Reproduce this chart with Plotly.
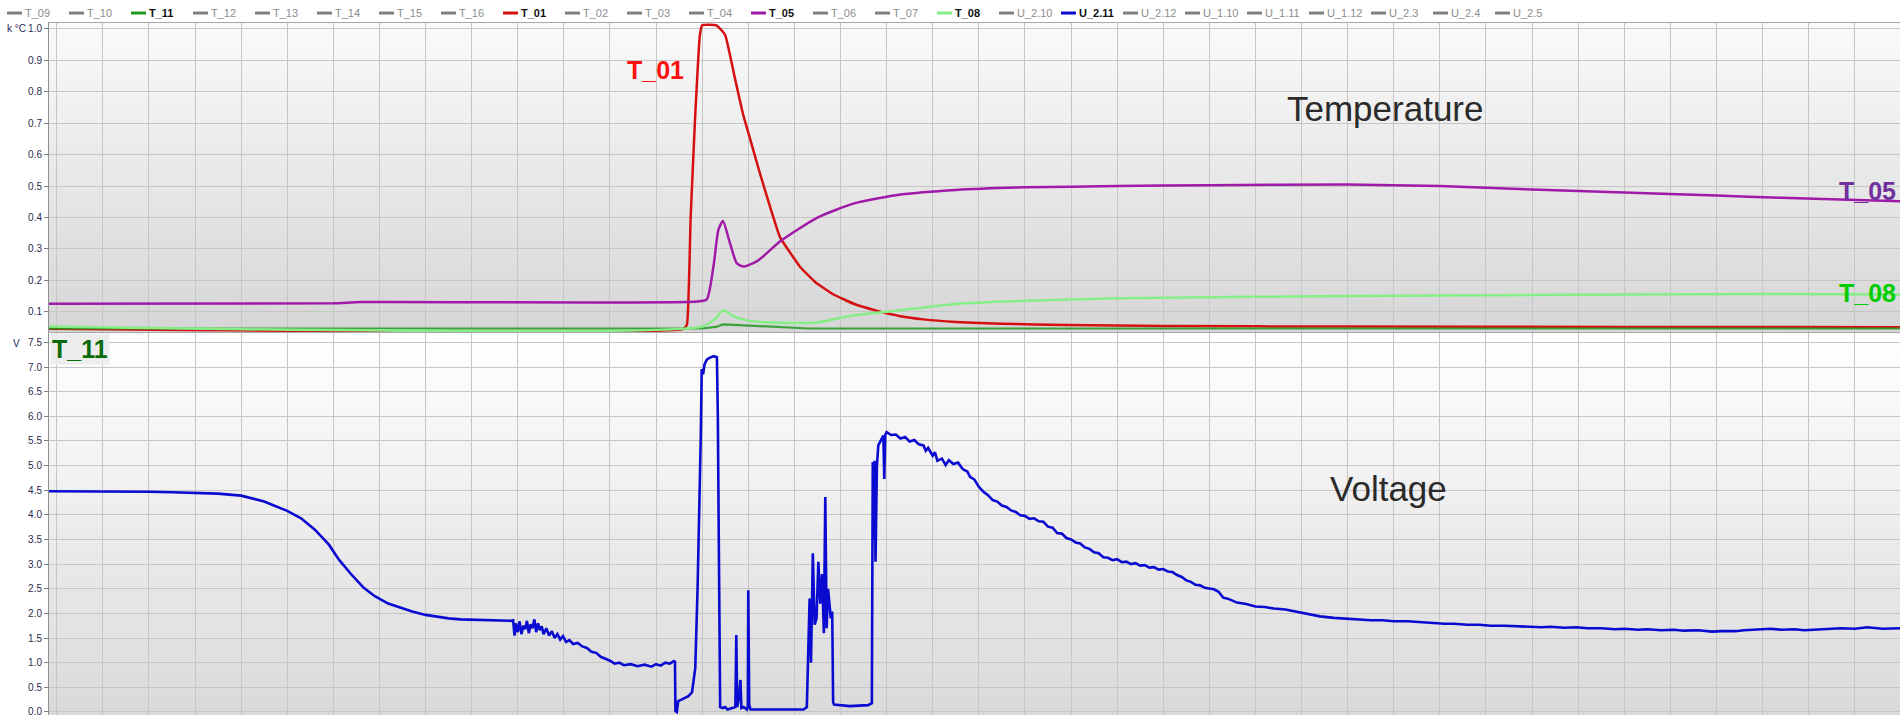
import plotly.graph_objects as go

# ---------------- data (x in grid units, one unit per vertical grid line) -------------
legend_names = ["T_09", "T_10", "T_11", "T_12", "T_13", "T_14", "T_15", "T_16", "T_01",
                "T_02", "T_03", "T_04", "T_05", "T_06", "T_07", "T_08", "U_2.10", "U_2.11",
                "U_2.12", "U_1.10", "U_1.11", "U_1.12", "U_2.3", "U_2.4", "U_2.5"]
active_colors = {"T_11": "#1f9a1f", "T_01": "#d41010", "T_05": "#a01aa8",
                 "T_08": "#86ee86", "U_2.11": "#0a0ad0"}

t11_x = [-0.17, 14.0, 14.3, 14.45, 14.8, 15.3, 15.8, 16.3, 40.0]
t11_y = [0.047, 0.047, 0.052, 0.060, 0.058, 0.054, 0.050, 0.047, 0.047]

t01_x = [-0.17, 13.6, 13.67, 13.75, 13.85, 13.95, 14.0, 14.3, 14.36, 14.5, 14.7, 14.89,
         15.05, 15.26, 15.45, 15.69, 15.9, 16.13, 16.45, 16.84, 17.3, 17.8, 18.3, 18.8,
         19.5, 20.5, 21.9, 24.0, 28.0, 34.0, 40.0]
t01_y = [0.046, 0.046, 0.06, 0.40, 0.727, 0.98, 1.012, 1.012, 1.005, 0.98, 0.85, 0.727,
         0.645, 0.537, 0.445, 0.337, 0.29, 0.242, 0.195, 0.156, 0.125, 0.103, 0.086, 0.076,
         0.068, 0.062, 0.058, 0.055, 0.053, 0.052, 0.051]

t05_x = [-0.17, 6.0, 6.6, 13.9, 14.1, 14.25, 14.35, 14.45, 14.6, 14.75, 14.9, 15.2, 15.7,
         16.5, 17.3, 18.3, 19.5, 21.0, 23.0, 25.0, 28.0, 30.0, 32.0, 34.0, 36.0, 37.4,
         38.5, 40.0]
t05_y = [0.126, 0.127, 0.131, 0.133, 0.14, 0.25, 0.36, 0.389, 0.32, 0.255, 0.244, 0.262,
         0.325, 0.40, 0.445, 0.473, 0.488, 0.496, 0.50, 0.503, 0.505, 0.50, 0.489, 0.48,
         0.47, 0.463, 0.458, 0.452]

t08_x = [-0.17, 14.0, 14.3, 14.45, 14.7, 15.0, 15.5, 16.5, 17.2, 18.3, 19.5, 21.0, 23.0,
         26.0, 30.0, 34.0, 37.0, 40.0]
t08_y = [0.053, 0.053, 0.08, 0.105, 0.085, 0.072, 0.066, 0.066, 0.087, 0.105, 0.125,
         0.135, 0.143, 0.148, 0.152, 0.155, 0.157, 0.155]

# U_2.11 as (x, volts) pairs
u211_xy = [
    (-0.17, 4.48), (1.0, 4.48), (2.0, 4.47), (2.5, 4.46), (3.0, 4.45), (3.5, 4.43),
    (4.0, 4.39), (4.5, 4.27), (5.0, 4.08), (5.3, 3.93), (5.6, 3.70), (5.9, 3.40),
    (6.13, 3.08), (6.4, 2.78), (6.66, 2.52), (6.9, 2.35), (7.19, 2.20), (7.5, 2.10),
    (7.71, 2.04), (8.0, 1.97), (8.24, 1.93), (8.5, 1.90), (8.76, 1.88), (9.0, 1.87),
    (9.29, 1.86), (9.6, 1.86), (9.85, 1.85),
    (9.9, 1.86), (9.93, 1.55), (9.96, 1.80), (10.0, 1.62), (10.04, 1.84), (10.08, 1.58),
    (10.12, 1.75), (10.16, 1.68), (10.2, 1.85), (10.24, 1.60), (10.28, 1.78), (10.32, 1.70),
    (10.36, 1.88), (10.4, 1.62), (10.44, 1.80), (10.48, 1.66), (10.52, 1.74), (10.56, 1.58),
    (10.62, 1.70), (10.68, 1.55), (10.74, 1.64), (10.8, 1.50), (10.86, 1.58), (10.92, 1.47),
    (10.98, 1.54), (11.05, 1.42), (11.12, 1.46), (11.2, 1.38), (11.3, 1.40), (11.4, 1.33),
    (11.5, 1.30), (11.6, 1.22), (11.7, 1.20), (11.8, 1.12), (11.9, 1.08), (12.0, 1.04),
    (12.1, 0.98), (12.2, 1.00), (12.3, 0.95), (12.45, 0.97), (12.6, 0.93), (12.75, 0.96),
    (12.9, 0.92), (13.0, 0.97), (13.1, 0.94), (13.2, 1.00), (13.3, 0.98), (13.38, 1.03),
    (13.41, 1.02),
    (13.42, 0.02), (13.45, 0.00), (13.48, 0.22), (13.55, 0.25), (13.62, 0.28), (13.7, 0.32),
    (13.78, 0.40), (13.85, 0.89), (13.9, 2.50), (13.93, 3.72), (13.97, 5.60), (13.99, 6.96),
    (14.02, 6.85), (14.05, 7.05), (14.1, 7.15), (14.15, 7.18), (14.25, 7.22), (14.32, 7.20),
    (14.34, 6.00), (14.36, 3.50), (14.39, 0.10), (14.45, 0.08), (14.5, 0.10), (14.55, 0.05),
    (14.65, 0.08), (14.72, 0.10), (14.74, 1.56), (14.76, 0.10), (14.8, 0.30), (14.83, 0.65),
    (14.85, 0.08), (14.9, 0.10), (14.97, 0.05), (14.99, 0.10), (15.0, 2.47), (15.02, 0.15),
    (15.05, 0.05), (15.5, 0.05), (16.0, 0.04), (16.2, 0.05), (16.27, 0.10),
    (16.3, 1.50), (16.33, 2.30), (16.36, 1.00), (16.4, 3.22), (16.44, 1.77), (16.48, 1.90),
    (16.52, 3.05), (16.56, 2.20), (16.6, 2.80), (16.64, 1.60), (16.67, 4.36), (16.7, 1.70),
    (16.73, 2.50), (16.76, 2.25), (16.79, 1.90), (16.82, 2.04), (16.84, 0.20), (16.86, 0.15),
    (17.2, 0.12), (17.6, 0.14), (17.68, 0.18),
    (17.7, 5.07), (17.72, 3.50), (17.74, 5.10), (17.76, 3.05), (17.79, 5.00), (17.82, 5.41),
    (17.87, 5.50), (17.93, 5.61), (17.95, 4.73), (17.97, 5.62),
    (18.0, 5.68), (18.1, 5.62), (18.2, 5.63), (18.3, 5.55), (18.4, 5.58), (18.5, 5.49),
    (18.6, 5.52), (18.7, 5.43), (18.8, 5.41), (18.85, 5.30), (18.9, 5.36), (19.0, 5.20),
    (19.05, 5.27), (19.1, 5.10), (19.2, 5.14), (19.28, 5.01), (19.35, 5.11), (19.45, 5.03),
    (19.55, 5.06), (19.65, 4.93), (19.75, 4.88), (19.81, 4.77), (19.9, 4.72), (20.0, 4.57),
    (20.1, 4.47), (20.2, 4.40), (20.3, 4.30), (20.4, 4.27), (20.5, 4.19), (20.6, 4.16),
    (20.7, 4.09), (20.8, 4.06), (20.9, 3.99), (21.0, 3.98), (21.1, 3.92), (21.2, 3.93),
    (21.3, 3.87), (21.4, 3.86), (21.5, 3.76), (21.6, 3.74), (21.7, 3.63), (21.8, 3.62),
    (21.9, 3.53), (22.0, 3.50), (22.1, 3.44), (22.2, 3.42), (22.3, 3.34), (22.4, 3.31),
    (22.5, 3.24), (22.6, 3.22), (22.7, 3.14), (22.8, 3.13), (22.9, 3.08), (23.0, 3.10),
    (23.1, 3.04), (23.2, 3.05), (23.3, 3.00), (23.4, 3.02), (23.5, 2.97), (23.6, 2.98),
    (23.7, 2.93), (23.8, 2.94), (23.9, 2.89), (24.0, 2.90), (24.1, 2.85), (24.2, 2.84),
    (24.3, 2.78), (24.4, 2.74), (24.5, 2.67), (24.6, 2.64), (24.7, 2.58), (24.8, 2.57),
    (24.9, 2.52), (25.0, 2.51), (25.1, 2.49), (25.2, 2.44), (25.3, 2.32), (25.4, 2.30),
    (25.6, 2.22), (25.8, 2.19), (26.0, 2.14), (26.2, 2.13), (26.4, 2.10), (26.65, 2.08),
    (26.9, 2.03), (27.17, 1.99), (27.4, 1.94), (27.7, 1.91), (28.0, 1.89), (28.2, 1.88),
    (28.5, 1.86), (28.75, 1.86), (29.0, 1.84), (29.3, 1.84), (29.6, 1.82), (29.8, 1.82),
    (30.1, 1.79), (30.3, 1.79), (30.6, 1.77), (30.86, 1.77), (31.1, 1.75), (31.4, 1.75),
    (31.7, 1.74), (31.91, 1.74), (32.2, 1.72), (32.4, 1.73), (32.7, 1.71), (32.96, 1.72),
    (33.2, 1.70), (33.5, 1.70), (33.8, 1.68), (34.01, 1.69), (34.3, 1.67), (34.5, 1.68),
    (34.8, 1.66), (35.07, 1.67), (35.3, 1.65), (35.6, 1.66), (35.9, 1.63), (36.12, 1.64),
    (36.4, 1.64), (36.6, 1.66), (36.9, 1.68), (37.17, 1.69), (37.4, 1.67), (37.7, 1.68),
    (37.9, 1.66), (38.22, 1.67), (38.5, 1.69), (38.7, 1.70), (39.0, 1.69), (39.27, 1.72),
    (39.6, 1.69), (39.98, 1.70),
]
u211_x = [p[0] for p in u211_xy]
u211_y = [p[1] for p in u211_xy]

x_range = [-0.167, 39.98]
temp_range = [0.0355, 1.019]
volt_range = [-0.061, 7.688]

# ---------------- layout geometry (pixels) ----------------
W, H = 1901, 717
ML, MR, MT, MB = 49, 1, 23, 0
PW, PH = W - ML - MR, H - MT - MB


def px_x(px):
    return (px - ML) / PW


def px_y(py):
    return (H - MB - py) / PH


FONT = "Arial, Liberation Sans, sans-serif"

fig = go.Figure()
fig.add_trace(go.Scatter(x=t01_x, y=t01_y, mode="lines", name="T_01",
                         line=dict(color=active_colors["T_01"], width=2.5, shape="spline",
                                   smoothing=0.4),
                         xaxis="x", yaxis="y", showlegend=False))
fig.add_trace(go.Scatter(x=t11_x, y=t11_y, mode="lines", name="T_11",
                         line=dict(color=active_colors["T_11"], width=2.2),
                         opacity=0.85, xaxis="x", yaxis="y", showlegend=False))
fig.add_trace(go.Scatter(x=t05_x, y=t05_y, mode="lines", name="T_05",
                         line=dict(color=active_colors["T_05"], width=2.5, shape="spline",
                                   smoothing=0.6),
                         xaxis="x", yaxis="y", showlegend=False))
fig.add_trace(go.Scatter(x=t08_x, y=t08_y, mode="lines", name="T_08",
                         line=dict(color=active_colors["T_08"], width=2.5, shape="spline",
                                   smoothing=0.6),
                         xaxis="x", yaxis="y", showlegend=False))
fig.add_trace(go.Scatter(x=u211_x, y=u211_y, mode="lines", name="U_2.11",
                         line=dict(color=active_colors["U_2.11"], width=2.6),
                         xaxis="x2", yaxis="y2", showlegend=False))

# gradient backgrounds (bands)
shapes = []
N = 40
for ax_y, (c_top, c_bot) in (("y", (250, 214)), ("y2", (255, 218))):
    for k in range(N):
        f = (k + 0.5) / N
        g = round(c_bot + (c_top - c_bot) * f)
        shapes.append(dict(type="rect", xref="x domain" if ax_y == "y" else "x2 domain",
                           yref=f"{ax_y} domain", x0=0, x1=1, y0=k / N, y1=(k + 1) / N + 0.002,
                           fillcolor=f"rgb({g},{g},{g})", line=dict(width=0), layer="below"))

# manual legend row
annotations = []
for i, name in enumerate(legend_names):
    x0 = 7 + 62 * i
    active = name in active_colors
    shapes.append(dict(type="line", xref="paper", yref="paper",
                       x0=px_x(x0), x1=px_x(x0 + 15), y0=px_y(13), y1=px_y(13),
                       line=dict(color=active_colors.get(name, "#7f7f7f"), width=3)))
    annotations.append(dict(xref="paper", yref="paper", x=px_x(x0 + 16), y=px_y(13),
                            xanchor="left", yanchor="middle", showarrow=False,
                            text=f"<b>{name}</b>" if active else name,
                            font=dict(family=FONT, size=11,
                                      color="#111111" if active else "#8c8c8c")))

# axis unit labels
annotations.append(dict(xref="paper", yref="paper", x=px_x(5), y=px_y(29), xanchor="left",
                        yanchor="middle", showarrow=False, text="k °C",
                        font=dict(family=FONT, size=10, color="#23235a")))
annotations.append(dict(xref="paper", yref="paper", x=px_x(11), y=px_y(344), xanchor="left",
                        yanchor="middle", showarrow=False, text="V",
                        font=dict(family=FONT, size=10, color="#23235a")))

# big labels
big = [("T_01", 625, 70, "#ff1010", True, 25, None, "left"),
       ("Temperature", 1285, 109, "#2a2a2a", False, 35, None, "left"),
       ("Voltage", 1328, 490, "#2a2a2a", False, 35, None, "left"),
       ("T_05", 1898, 191, "#7030a0", True, 25, None, "right"),
       ("T_08", 1898, 294, "#00cc00", True, 25, None, "right"),
       ("T_11", 50, 350, "#0b6b0b", True, 25, "rgba(236,236,236,0.95)", "left")]
for text, xp, yp, col, bold, size, bg, anchor in big:
    a = dict(xref="paper", yref="paper", x=px_x(xp), y=px_y(yp), xanchor=anchor,
             yanchor="middle", showarrow=False,
             text=f"<b>{text}</b>" if bold else text,
             font=dict(family=FONT, size=size, color=col), borderpad=1)
    if bg:
        a["bgcolor"] = bg
    annotations.append(a)

grid = "#c6c6c6"
axis_common = dict(showgrid=True, gridcolor=grid, gridwidth=1, zeroline=False)
fig.update_layout(
    width=W, height=H,
    margin=dict(l=ML, r=MR, t=MT, b=MB, pad=0),
    paper_bgcolor="white", plot_bgcolor="white",
    showlegend=False,
    shapes=shapes, annotations=annotations,
    xaxis=dict(domain=[0, 1], range=x_range, anchor="y", dtick=1, tick0=0,
               showticklabels=False, ticks="", showline=True, mirror=True,
               linecolor="#a8a8a8", linewidth=1, **axis_common),
    yaxis=dict(domain=[px_y(333), 1], range=temp_range, anchor="x", dtick=0.1, tick0=0,
               tickformat=".1f", ticks="outside", ticklen=4, tickcolor="#808080",
               showline=True, linecolor="#909090", linewidth=1,
               tickfont=dict(family=FONT, size=10, color="#2b2b4b"), **axis_common),
    xaxis2=dict(domain=[0, 1], range=x_range, anchor="y2", dtick=1, tick0=0,
                showticklabels=False, ticks="", showline=False, **axis_common),
    yaxis2=dict(domain=[0, px_y(334)], range=volt_range, anchor="x2", dtick=0.5, tick0=0,
                tickformat=".1f", ticks="outside", ticklen=4, tickcolor="#808080",
                showline=True, linecolor="#909090", linewidth=1, ticklabeloverflow="allow",
                tickfont=dict(family=FONT, size=10, color="#2b2b4b"), **axis_common),
)

fig.write_html("out.html", config={"displayModeBar": False},
               post_script="document.body.style.margin='0';"
                           "document.body.style.overflow='hidden';")
